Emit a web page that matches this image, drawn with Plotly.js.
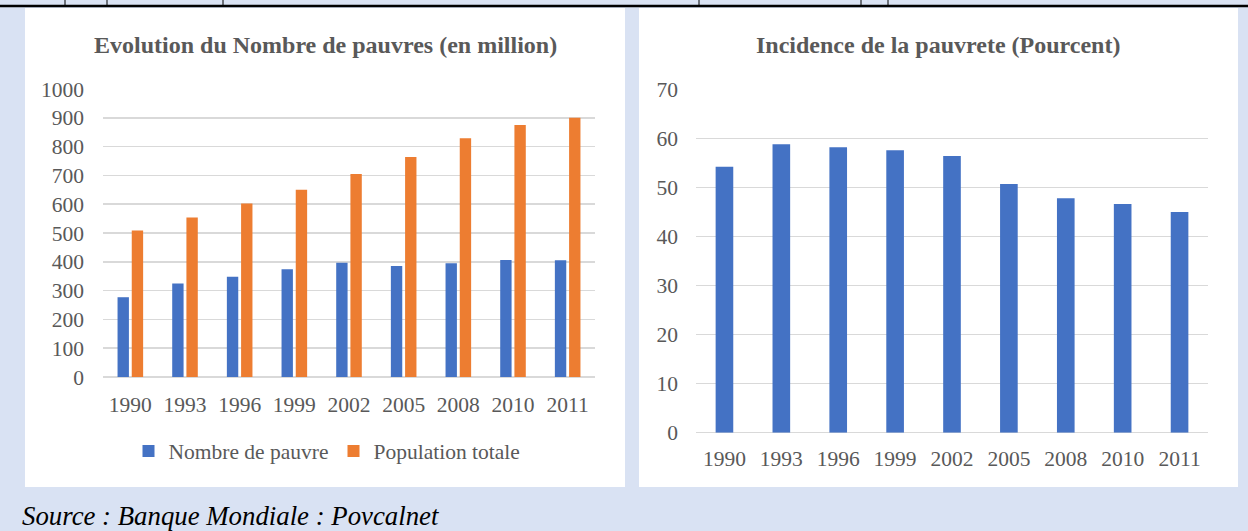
<!DOCTYPE html>
<html>
<head>
<meta charset="utf-8">
<script src="https://cdn.plot.ly/plotly-3.0.1.min.js"></script>
<style>
  html, body { margin: 0; padding: 0; background: #d9e2f3; }
  #chart { width: 1248px; height: 531px; }
</style>
</head>
<body>
<div id="chart"></div>
<script>
// data
const years = [ '1990', '1993', '1996', '1999', '2002', '2005', '2008', '2010', '2011' ];
const nombrePauvres = [ 277, 325, 348, 374, 397, 385, 395, 406, 405 ];
const populationTotale = [ 509, 554, 602, 650, 705, 764, 829, 875, 900 ];
const incidence = [ 54.2, 58.8, 58.2, 57.6, 56.4, 50.7, 47.8, 46.6, 45.0 ];

const W = 1248, H = 531;
const px = x => x / W;            // pixel -> paper x
const py = y => 1 - y / H;        // pixel -> paper y

const serif = 'Liberation Serif, Times New Roman, serif';
const grey = '#595959';
const blue = '#4472c4';
const orange = '#ed7d31';

const data = [
    {
        type: 'bar', name: 'Nombre de pauvre',
        x: years, y: nombrePauvres,
        marker: { color: blue },
        xaxis: 'x', yaxis: 'y'
    },
    {
        type: 'bar', name: 'Population totale',
        x: years, y: populationTotale,
        marker: { color: orange },
        xaxis: 'x', yaxis: 'y'
    },
    {
        type: 'bar', name: 'Incidence',
        x: years, y: incidence, width: 0.31,
        marker: { color: blue },
        showlegend: false,
        xaxis: 'x2', yaxis: 'y2'
    }
];

const axisCommon = {
    showline: false,
    ticks: '',
    tickfont: { family: serif, size: 21.5, color: grey },
    fixedrange: true
};

const layout = {
    width: W, height: H,
    margin: { l: 0, r: 0, t: 0, b: 0 },
    paper_bgcolor: '#d9e2f3',
    plot_bgcolor: 'rgba(0,0,0,0)',
    barmode: 'group',
    bargap: 0.48,
    bargroupgap: 0.2,
    font: { family: serif, color: grey },
    xaxis: Object.assign( {}, axisCommon, {
        type: 'category',
        domain: [ px( 103 ), px( 595 ) ],
        anchor: 'y',
        showgrid: false,
        ticklabelstandoff: 12
    } ),
    yaxis: Object.assign( {}, axisCommon, {
        domain: [ py( 377 ), py( 89 ) ],
        anchor: 'x',
        range: [ 0, 1000 ],
        dtick: 100,
        showgrid: true, gridcolor: '#d9d9d9', gridwidth: 1.5,
        zeroline: true, zerolinecolor: '#d9d9d9', zerolinewidth: 1.5,
        ticklabelstandoff: 18
    } ),
    xaxis2: Object.assign( {}, axisCommon, {
        type: 'category',
        domain: [ px( 696 ), px( 1208 ) ],
        anchor: 'y2',
        showgrid: false,
        ticklabelstandoff: 11
    } ),
    yaxis2: Object.assign( {}, axisCommon, {
        domain: [ py( 432.7 ), py( 89.3 ) ],
        anchor: 'x2',
        range: [ 0, 70 ],
        dtick: 10,
        showgrid: true, gridcolor: '#d9d9d9', gridwidth: 1.5,
        zeroline: true, zerolinecolor: '#d9d9d9', zerolinewidth: 1.5,
        ticklabelstandoff: 17
    } ),
    showlegend: true,
    legend: {
        orientation: 'h',
        x: px( 327 ), xanchor: 'center',
        y: py( 451 ), yanchor: 'middle',
        font: { family: serif, size: 21.5, color: grey },
        bgcolor: 'rgba(0,0,0,0)'
    },
    shapes: [
        // white chart panels
        { type: 'rect', xref: 'paper', yref: 'paper', layer: 'below',
          x0: px( 25 ), x1: px( 625 ), y0: py( 487 ), y1: py( 8 ),
          fillcolor: '#ffffff', line: { width: 0 } },
        { type: 'rect', xref: 'paper', yref: 'paper', layer: 'below',
          x0: px( 639 ), x1: px( 1238 ), y0: py( 487 ), y1: py( 8 ),
          fillcolor: '#ffffff', line: { width: 0 } },
        // table border above
        { type: 'line', xref: 'paper', yref: 'paper',
          x0: 0, x1: 1, y0: py( 6 ), y1: py( 6 ),
          line: { color: '#000000', width: 2.5 } },
        ...[ 65, 107, 223, 699, 861, 888 ].map( x => ( {
            type: 'line', xref: 'paper', yref: 'paper',
            x0: px( x ), x1: px( x ), y0: py( 0 ), y1: py( 6 ),
            line: { color: '#000000', width: 1 }
        } ) )
    ],
    annotations: [
        { text: '<b>Evolution du Nombre de pauvres (en million)</b>',
          xref: 'paper', yref: 'paper', x: px( 325 ), y: py( 45 ),
          xanchor: 'center', yanchor: 'middle', showarrow: false,
          font: { family: serif, size: 24, color: grey } },
        { text: '<b>Incidence de la pauvrete (Pourcent)</b>',
          xref: 'paper', yref: 'paper', x: px( 938 ), y: py( 45 ),
          xanchor: 'center', yanchor: 'middle', showarrow: false,
          font: { family: serif, size: 24, color: grey } },
        { text: '<i>Source : Banque Mondiale : Povcalnet</i>',
          xref: 'paper', yref: 'paper', x: px( 20 ), y: py( 516 ),
          xanchor: 'left', yanchor: 'middle', showarrow: false,
          font: { family: serif, size: 26.8, color: '#000000' } }
    ]
};

Plotly.newPlot( 'chart', data, layout, { displayModeBar: false, staticPlot: true } );
</script>
</body>
</html>
